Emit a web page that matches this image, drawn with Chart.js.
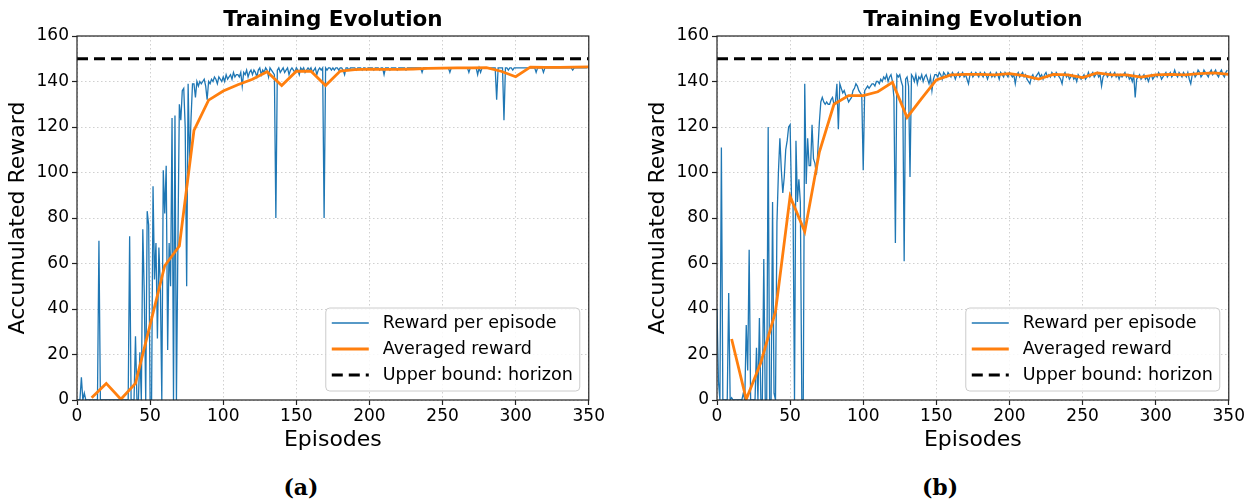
<!DOCTYPE html>
<html>
<head>
<meta charset="utf-8">
<script src="https://cdn.jsdelivr.net/npm/chart.js@4.4.1/dist/chart.umd.min.js"></script>
<style>
  body { margin: 0; background: #fff; width: 1257px; height: 504px; position: relative; overflow: hidden; }
  .panel { position: absolute; top: 0; width: 606px; height: 460px; }
  .caption { position: absolute; top: 474px; width: 100px; text-align: center;
    font-family: 'DejaVu Serif'; font-weight: bold; font-size: 22px; color: #000; }
</style>
</head>
<body>
<div class="panel" style="left:0px"><canvas id="chartA"></canvas></div>
<div class="panel" style="left:640px"><canvas id="chartB"></canvas></div>
<div class="caption" style="left:251px">(a)</div>
<div class="caption" style="left:890px">(b)</div>
<script>
// recompensa por episodio, painel (a) - episodios 0..349
const rewardA = [
  0, 0, 0, 10, 0, 3, 0, 0, 0, 0,
  0, 0, 0, 0, 0, 70, 0, 0, 0, 0,
  0, 0, 0, 0, 0, 0, 0, 0, 0, 0,
  0, 0, 0, 0, 0, 0, 72, 0, 0, 0,
  28, 0, 0, 21, 0, 75, 47, 0, 83, 77,
  0, 0, 94, 53, 69, 27, 67, 50, 0, 101,
  82, 103, 22, 69, 50, 124, 0, 125, 0, 68,
  130, 123, 136, 137, 120, 50, 139, 104, 124, 139,
  139, 133, 140, 138, 140, 139, 140, 141, 138, 132,
  140, 139, 141, 140, 142, 141, 139, 142, 141, 140,
  142, 140, 143, 141, 142, 143, 141, 144, 142, 143,
  143, 142, 144, 138, 144, 143, 145, 142, 144, 145,
  143, 145, 144, 142, 145, 146, 143, 145, 144, 146,
  145, 142, 146, 145, 144, 143, 80, 145, 146, 144,
  145, 146, 144, 145, 146, 143, 145, 146, 145, 144,
  146, 145, 143, 146, 145, 146, 144, 145, 146, 145,
  146, 144, 145, 146, 143, 145, 146, 145, 146, 80,
  146, 145, 146, 146, 145, 146, 145, 146, 146, 145,
  146, 146, 145, 143, 146, 146, 145, 146, 146, 146,
  146, 145, 146, 146, 146, 145, 146, 146, 145, 146,
  146, 146, 146, 145, 146, 146, 146, 145, 146, 146,
  143, 146, 146, 146, 145, 146, 146, 146, 146, 145,
  146, 146, 146, 146, 146, 145, 146, 146, 146, 146,
  146, 146, 146, 146, 146, 146, 144, 146, 146, 146,
  146, 146, 146, 146, 146, 146, 146, 146, 146, 146,
  146, 146, 146, 146, 146, 144, 146, 146, 146, 146,
  146, 146, 146, 146, 146, 146, 146, 146, 144, 146,
  146, 146, 146, 146, 143, 146, 144, 146, 146, 146,
  146, 146, 146, 146, 146, 146, 146, 132, 146, 146,
  146, 146, 123, 146, 146, 145, 146, 146, 145, 146,
  146, 146, 146, 146, 146, 146, 146, 146, 146, 146,
  146, 146, 146, 146, 144, 146, 146, 146, 146, 144,
  146, 146, 146, 146, 146, 146, 146, 146, 146, 146,
  146, 146, 146, 146, 146, 146, 146, 146, 146, 145,
  146, 146, 146, 146, 146, 146, 146, 146, 146, 146
]

// recompensa por episodio, painel (b)
const rewardB = [
  40, 8, 0, 111, 0, 0, 0, 0, 47, 0,
  1, 0, 0, 0, 0, 0, 0, 0, 3, 0,
  33, 13, 66, 0, 0, 0, 0, 23, 0, 36,
  0, 0, 62, 0, 0, 120, 0, 0, 87, 3,
  0, 78, 100, 115, 101, 91, 98, 110, 114, 120,
  121, 87, 86, 0, 114, 87, 97, 87, 0, 0,
  139, 95, 115, 103, 103, 121, 106, 104, 99, 110,
  122, 131, 133, 131, 130, 131, 130, 130, 132, 133,
  130, 131, 139, 119, 139, 137, 135, 136, 134, 133,
  131, 132, 133, 136, 137, 139, 138, 136, 135, 134,
  101, 136, 137, 138, 137, 138, 139, 139, 138, 140,
  140, 139, 141, 140, 142, 141, 143, 140, 142, 143,
  140, 133, 69, 143, 142, 143, 140, 138, 61, 141,
  142, 138, 98, 143, 142, 140, 143, 139, 142, 141,
  143, 140, 142, 143, 141, 139, 142, 136, 141, 143,
  143, 142, 144, 143, 141, 144, 143, 142, 144, 143,
  142, 144, 143, 141, 143, 144, 142, 143, 144, 142,
  143, 141, 139, 143, 144, 142, 143, 144, 143, 142,
  144, 143, 142, 144, 143, 141, 143, 144, 142, 143,
  142, 144, 143, 141, 144, 143, 142, 144, 143, 142,
  144, 143, 142, 143, 139, 143, 144, 142, 143, 144,
  142, 143, 141, 140, 139, 142, 143, 141, 142, 143,
  144, 142, 143, 141, 143, 144, 142, 143, 142, 144,
  143, 142, 144, 143, 142, 141, 139, 143, 144, 142,
  143, 141, 142, 143, 141, 142, 140, 143, 142, 141,
  142, 143, 141, 142, 144, 142, 143, 144, 142, 143,
  144, 142, 143, 138, 142, 143, 144, 142, 143, 144,
  142, 143, 144, 142, 143, 141, 143, 142, 143, 144,
  142, 143, 141, 142, 140, 143, 133, 141, 142, 143,
  141, 142, 143, 141, 142, 140, 142, 143, 141, 142,
  143, 142, 144, 143, 141, 142, 143, 144, 142, 143,
  144, 142, 143, 145, 143, 142, 144, 143, 142, 144,
  143, 142, 144, 141, 139, 143, 144, 142, 143, 145,
  144, 142, 143, 145, 144, 143, 142, 144, 145, 143,
  144, 145, 143, 142, 144, 145, 143, 142, 144, 145
]

// media a cada 10 episodios
const avgEpisodes = [10, 20, 30, 40, 50, 60, 70, 80, 90, 100, 110, 120, 130, 140, 150, 160, 170, 180,
  190, 200, 210, 220, 230, 240, 250, 260, 270, 280, 290, 300, 310, 320, 330, 340, 350]

const avgA = [1, 7.3, 0.3, 7.3, 33, 59, 67.7, 118.5, 131.8, 135.8, 138.6, 141, 144.3, 138.2, 144.5, 144.5,
  138.2, 144.6, 145.2, 145.4, 145.3, 145.3, 145.5, 145.8, 145.9, 146, 146, 146.1, 144.5, 142.1, 146.3,
  146.2, 146.2, 146.3, 146.4]

const avgB = [26.8, 0.3, 16.5, 38.8, 89.5, 74, 109, 130, 133.8, 133.8, 135.5, 139.6, 124.2, 132.6, 140.7,
  142.9, 143.1, 143.1, 142.9, 143.5, 142.6, 141.1, 143.1, 142.9, 141.7, 143.8, 142.9, 142.9, 141.9,
  142.9, 143.1, 142.9, 143.5, 143.8, 143.1]

const horizon = 150
const boundEpisodes = [0, 350]

const chartTitle = 'Training Evolution'
const seriesLabels = ['Reward per episode', 'Averaged reward', 'Upper bound: horizon']
const FONT = 'DejaVu Sans'

// titulo centrado sobre a area do grafico (como no matplotlib)
const centeredTitle = {
  id: 'centeredTitle',
  afterDraw(chart) {
    const { ctx, chartArea: a } = chart
    ctx.save()
    ctx.fillStyle = '#000'
    ctx.font = 'bold 21.5px "' + FONT + '"'
    ctx.textAlign = 'center'
    ctx.textBaseline = 'middle'
    ctx.fillText(chartTitle, (a.left + a.right) / 2, 20)
    ctx.restore()
  }
}

// moldura completa (spines)
const frame = {
  id: 'frame',
  afterDraw(chart) {
    const { ctx, chartArea: a } = chart
    ctx.save()
    ctx.strokeStyle = '#222'
    ctx.lineWidth = 1.2
    ctx.strokeRect(a.left, a.top, a.right - a.left, a.bottom - a.top)
    ctx.restore()
  }
}

// legenda no canto inferior direito
const legendBox = {
  id: 'legendBox',
  afterDraw(chart) {
    const { ctx, chartArea } = chart
    const w = 254
    const h = 83
    const x0 = chartArea.right - 9 - w
    const y0 = chartArea.bottom - 9 - h
    ctx.save()
    ctx.beginPath()
    ctx.roundRect(x0, y0, w, h, 4)
    ctx.fillStyle = 'rgba(255,255,255,0.85)'
    ctx.fill()
    ctx.strokeStyle = '#cccccc'
    ctx.lineWidth = 1
    ctx.stroke()
    chart.data.datasets.forEach((ds, i) => {
      const cy = y0 + 15 + i * 26
      ctx.beginPath()
      ctx.setLineDash(ds.borderDash || [])
      ctx.strokeStyle = ds.borderColor
      ctx.lineWidth = ds.borderWidth
      ctx.moveTo(x0 + 6, cy)
      ctx.lineTo(x0 + 43, cy)
      ctx.stroke()
      ctx.setLineDash([])
      ctx.fillStyle = '#000'
      ctx.font = '17.5px "' + FONT + '"'
      ctx.textBaseline = 'middle'
      ctx.fillText(ds.label, x0 + 57, cy)
    })
    ctx.restore()
  }
}

function makeChart(id, rewards, averages) {
  const ctx = document.getElementById(id).getContext('2d')
  return new Chart(ctx, {
    type: 'line',
    data: {
      datasets: [
        {
          label: seriesLabels[0],
          data: rewards.map((v, i) => ({ x: i, y: v })),
          borderColor: '#1f77b4',
          borderWidth: 1.3,
          order: 3
        },
        {
          label: seriesLabels[1],
          data: averages.map((v, i) => ({ x: avgEpisodes[i], y: v })),
          borderColor: '#ff7f0e',
          borderWidth: 2.8,
          order: 2
        },
        {
          label: seriesLabels[2],
          data: boundEpisodes.map(e => ({ x: e, y: horizon })),
          borderColor: '#000',
          borderWidth: 2.8,
          borderDash: [11, 6],
          order: 1
        }
      ]
    },
    options: {
      responsive: true,
      maintainAspectRatio: false,
      animation: false,
      layout: { padding: { left: 0, right: 0, top: 36, bottom: 0 } },
      elements: { point: { radius: 0 }, line: { tension: 0 } },
      scales: {
        x: {
          type: 'linear',
          min: 0,
          max: 350,
          afterFit: s => { s.height = 60 },
          ticks: { stepSize: 50, color: '#000', padding: 1, font: { family: FONT, size: 17 }, maxRotation: 0 },
          grid: { color: 'rgba(170,170,170,0.55)', lineWidth: 1, tickLength: 5, tickColor: '#222',
            tickWidth: 1.2, tickBorderDash: [] },
          border: { display: false, dash: [1.5, 2.5] },
          title: { display: true, text: 'Episodes', color: '#000', font: { family: FONT, size: 22 },
            padding: { top: 0, bottom: 7 } }
        },
        y: {
          min: 0,
          max: 160,
          afterFit: s => { s.width = 77 },
          ticks: { stepSize: 20, color: '#000', padding: 3, font: { family: FONT, size: 17 } },
          grid: { color: 'rgba(170,170,170,0.55)', lineWidth: 1, tickLength: 5, tickColor: '#222',
            tickWidth: 1.2, tickBorderDash: [] },
          border: { display: false, dash: [1.5, 2.5] },
          title: { display: true, text: 'Accumulated Reward', color: '#000', font: { family: FONT, size: 22 },
            padding: { top: 5, bottom: 0 } }
        }
      },
      plugins: {
        legend: { display: false },
        tooltip: { enabled: false },
        title: { display: false }
      }
    },
    plugins: [frame, legendBox, centeredTitle]
  })
}

makeChart('chartA', rewardA, avgA)
makeChart('chartB', rewardB, avgB)
</script>
</body>
</html>
